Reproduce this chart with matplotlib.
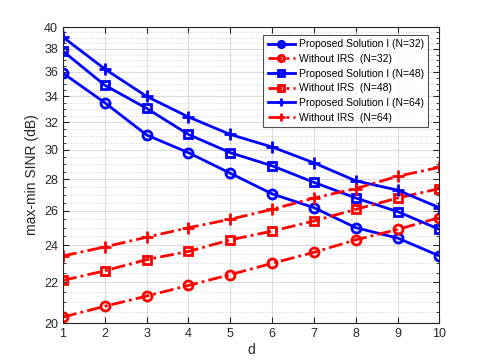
import matplotlib
matplotlib.use("Agg")
import matplotlib.pyplot as plt
from matplotlib.ticker import FixedLocator, NullFormatter, FixedFormatter
import numpy as np

plt.rcParams['font.family'] = ['Liberation Sans', 'DejaVu Sans']

d = [1, 2, 3, 4, 5, 6, 7, 8, 9, 10]
prop_32 = [35.9, 33.5, 31.06, 29.8, 28.4, 27.06, 26.2, 25.0, 24.4, 23.4]
noirs_32 = [20.28, 20.8, 21.3, 21.84, 22.4, 23.0, 23.6, 24.3, 24.9, 25.6]
prop_48 = [37.8, 34.9, 33.06, 31.1, 29.8, 28.9, 27.8, 26.8, 25.96, 24.9]
noirs_48 = [22.1, 22.6, 23.2, 23.65, 24.3, 24.8, 25.4, 26.1, 26.8, 27.4]
prop_64 = [39.06, 36.25, 34.0, 32.4, 31.1, 30.2, 29.1, 27.9, 27.3, 26.2]
noirs_64 = [23.4, 23.9, 24.45, 25.0, 25.5, 26.1, 26.8, 27.4, 28.2, 28.8]

labels = ['Proposed Solution I (N=32)', 'Without IRS  (N=32)',
          'Proposed Solution I (N=48)', 'Without IRS  (N=48)',
          'Proposed Solution I (N=64)', 'Without IRS  (N=64)']
yticks = [20, 22, 24, 26, 28, 30, 32, 34, 36, 38, 40]

fig = plt.figure(figsize=(4.85, 3.63), dpi=100)
ax = fig.add_axes([63/485, 40/363, (439.5-63)/485, (323-27)/363])

lw = 2.0
series = [
    (prop_32, 'b', '-', 'o'),
    (noirs_32, 'r', (0, (5, 1.5, 1, 1.5)), 'o'),
    (prop_48, 'b', '-', 's'),
    (noirs_48, 'r', (0, (5, 1.5, 1, 1.5)), 's'),
    (prop_64, 'b', '-', '+'),
    (noirs_64, 'r', (0, (5, 1.5, 1, 1.5)), '+'),
]
for (vals, c, ls, mk), lab in zip(series, labels):
    msz = {'o': 6.5, 's': 6, '+': 8}[mk]
    ax.plot(d, vals, color=c, linestyle=ls, marker=mk, linewidth=lw,
            markersize=msz, label=lab, markerfacecolor='none', markeredgewidth=2.0)

ax.set_yscale('log')
ax.set_xlim(1, 10)
ax.set_ylim(20, 40)
ax.xaxis.set_major_locator(FixedLocator(d))
ax.yaxis.set_major_locator(FixedLocator(yticks))
ax.yaxis.set_major_formatter(FixedFormatter([str(t) for t in yticks]))
minor = [v for v in np.arange(20, 40.01, 0.5) if v not in yticks]
ax.yaxis.set_minor_locator(FixedLocator(minor))
ax.yaxis.set_minor_formatter(NullFormatter())

ax.grid(True, which='major', color='#dcdcdc', linewidth=0.8, linestyle='-')
ax.grid(True, which='minor', axis='y', color='#c8c8c8', linewidth=0.6, linestyle=(0, (1, 2)))
ax.set_axisbelow(True)

for s in ax.spines.values():
    s.set_color('#262626')
    s.set_linewidth(0.8)
ax.tick_params(which='both', direction='in', top=True, right=True, colors='#262626',
               labelsize=9, labelcolor='#262626')
ax.tick_params(which='major', length=4)
ax.tick_params(which='minor', length=2)

ax.set_xlabel('d', fontsize=10, color='#262626', labelpad=2)
ax.set_ylabel('max-min SINR (dB)', fontsize=10, color='#262626', labelpad=4)

leg = ax.legend(loc='upper right', bbox_to_anchor=(0.97, 0.973), fontsize=7.5,
                frameon=True, fancybox=False, edgecolor='#262626',
                handlelength=2.6, handletextpad=0.4, labelspacing=0.45,
                borderpad=0.4, borderaxespad=0.0, markerscale=0.7)
leg.get_frame().set_linewidth(0.8)

fig.savefig('out.png', dpi=100)
